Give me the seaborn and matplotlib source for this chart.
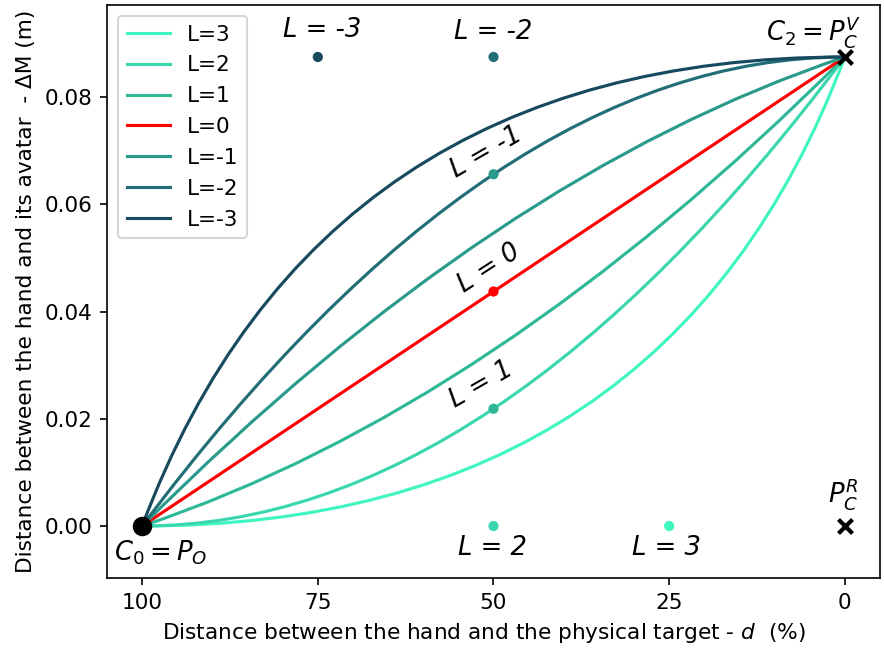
import matplotlib
matplotlib.use("Agg")
import matplotlib.pyplot as plt
from matplotlib.path import Path
from matplotlib.patches import PathPatch
from matplotlib.lines import Line2D
import seaborn as sns

# quadratic bezier from C0 (start) to C2 (end), one control point C1 per level L
start = (100, 0.0)
end = (0, 0.0875)
levels = ["3", "2", "1", "0", "-1", "-2", "-3"]
ctrl_x = [25, 50, 50, 50, 50, 50, 75]
ctrl_y = [0.0, 0.0, 0.021875, 0.04375, 0.065625, 0.0875, 0.0875]
colors = ["#3ff5c0", "#3ad7ae", "#2eb897", "#ff0000", "#2a9b8a", "#226e76", "#174a5e"]

# text labels next to the control points
label_x = [25.4, 50.1, 51.7, 50.6, 51.0, 50.1, 74.4]
label_y = [-0.0041, -0.0041, 0.0263, 0.0481, 0.0697, 0.0921, 0.0925]
label_rot = [0, 0, 30, 33, 30, 0, 0]

plt.rcParams["font.size"] = 10.4

fig, ax = plt.subplots(figsize=(884 / 150, 649 / 150), dpi=150)
fig.subplots_adjust(left=107 / 884, right=880 / 884, bottom=71 / 649, top=644 / 649)

# curves (drawn by matplotlib as true quadratic bezier paths)
handles = []
for lv, cx, cy, col in zip(levels, ctrl_x, ctrl_y, colors):
    path = Path([start, (cx, cy), end], [Path.MOVETO, Path.CURVE3, Path.CURVE3])
    ax.add_patch(PathPatch(path, facecolor="none", edgecolor=col, lw=1.5))
    handles.append(Line2D([], [], color=col, lw=1.5, label="L=" + lv))

# control points
sns.scatterplot(x=ctrl_x, y=ctrl_y, hue=levels, palette=dict(zip(levels, colors)),
                s=24, linewidth=0, legend=False, ax=ax, zorder=3)

# start / end points
ax.scatter([start[0]], [start[1]], color="black", s=70, zorder=4)
ax.scatter([end[0], 0], [end[1], 0.0], color="black", marker="x", s=45,
           linewidths=2, zorder=4)

for lv, tx, ty, rot in zip(levels, label_x, label_y, label_rot):
    ax.text(tx, ty, "L = " + lv, fontsize=12.4, style="italic", rotation=rot,
            ha="center", va="center", rotation_mode="anchor")

ax.text(4.4, 0.0921, r"$C_2 = P_C^V$", fontsize=12.4, ha="center", va="center")
ax.text(0.3, 0.0060, r"$P_C^R$", fontsize=12.4, ha="center", va="center")
ax.text(97.3, -0.0050, r"$C_0 = P_O$", fontsize=12.4, ha="center", va="center")

ax.set_xlim(105, -5)
ax.set_ylim(-0.0097, 0.0972)
ax.set_xticks([100, 75, 50, 25, 0])
ax.set_yticks([0.0, 0.02, 0.04, 0.06, 0.08])
ax.set_xlabel("Distance between the hand and the physical target - $d$  (%)")
ax.set_ylabel("Distance between the hand and its avatar  - ΔM (m)")
ax.xaxis.label.set_x(0.488)
ax.legend(handles=handles, loc="upper left")

fig.savefig("out.png", dpi=150)
